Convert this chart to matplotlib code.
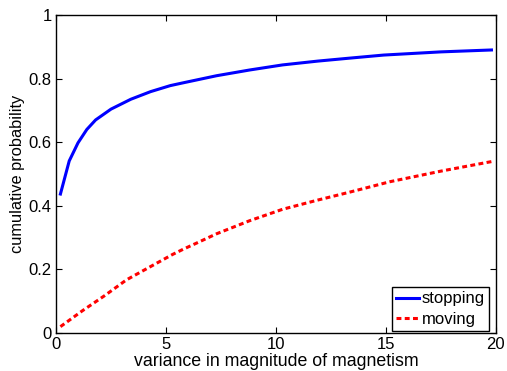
import matplotlib
matplotlib.use("Agg")
import matplotlib.pyplot as plt

# values
stop_x = [0.2, 0.6, 1.0, 1.4, 1.8, 2.5, 3.4, 4.3, 5.2, 5.8, 7.3, 8.8, 10.3, 11.9, 13.3, 14.9, 17.5, 19.8]
stop_y = [0.437, 0.541, 0.598, 0.64, 0.67, 0.704, 0.735, 0.759, 0.778, 0.787, 0.809, 0.827, 0.843,
          0.855, 0.864, 0.874, 0.884, 0.89]

move_x = [0.2, 1.2, 2.2, 3.2, 4.3, 5.3, 5.8, 6.4, 7.3, 8.8, 10.3, 11.9, 13.3, 15.2, 17.5, 19.8]
move_y = [0.02, 0.07, 0.117, 0.167, 0.209, 0.247, 0.264, 0.283, 0.312, 0.353, 0.389, 0.418,
          0.442, 0.476, 0.509, 0.539]

x_ticks = [0, 5, 10, 15, 20]
y_ticks = [0, 0.2, 0.4, 0.6, 0.8, 1]
y_tick_labels = ["0", "0.2", "0.4", "0.6", "0.8", "1"]

plt.rcParams['font.family'] = ['Liberation Sans', 'DejaVu Sans']

fig = plt.figure(figsize=(5.07, 3.71), dpi=100)
ax = fig.add_axes([0.1105, 0.1024, 0.8675, 0.8572])

ax.plot(stop_x, stop_y, color='#0000ff', lw=2.2, label='stopping')
ax.plot(move_x, move_y, color='#ff0000', lw=2.2, ls=(0, (1.6, 1.1)), label='moving')

ax.set_xlim(0, 20)
ax.set_ylim(0, 1)
ax.set_xticks(x_ticks)
ax.set_xticklabels([str(t) for t in x_ticks])
ax.set_yticks(y_ticks)
ax.set_yticklabels(y_tick_labels)
ax.tick_params(direction='in', top=True, right=True, length=4, width=0.8,
               labelsize=12, pad=3)
for s in ax.spines.values():
    s.set_linewidth(1.0)

ax.set_xlabel('variance in magnitude of magnetism', fontsize=12.8, labelpad=0.3)
ax.set_ylabel('cumulative probability', fontsize=11.8, labelpad=3)

leg = ax.legend(loc='lower right', bbox_to_anchor=(0.985, 0.005), fontsize=12,
                frameon=True, fancybox=False, edgecolor='black', framealpha=1,
                handlelength=1.4, handletextpad=0.15, borderpad=0.25,
                labelspacing=0.35, borderaxespad=0)
leg.get_frame().set_linewidth(1.0)

fig.savefig("out.png", dpi=100)
